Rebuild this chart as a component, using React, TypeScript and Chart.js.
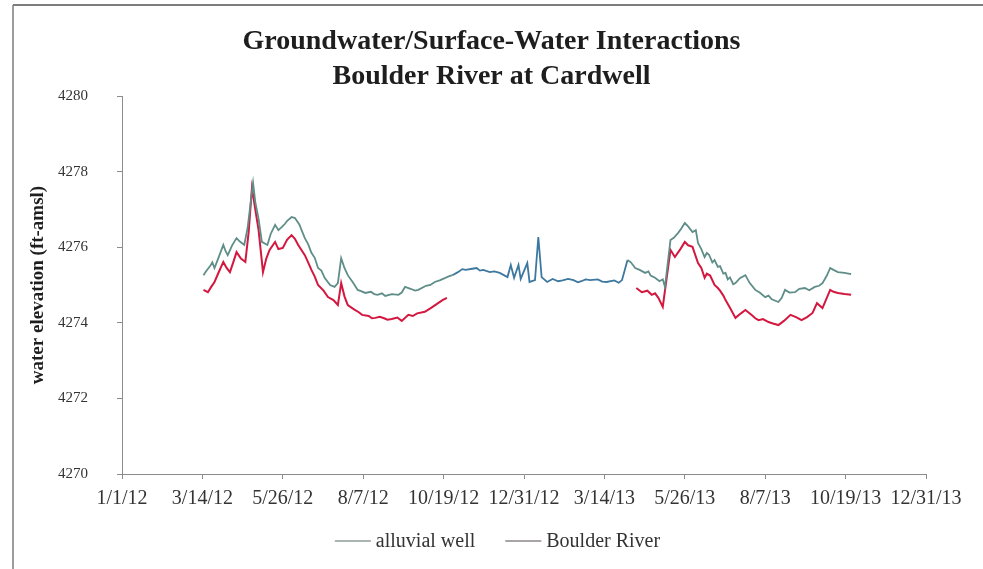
import React, { useEffect, useRef } from "react";
import { Chart, registerables } from "chart.js";

Chart.register(...registerables);

const TITLE_LINES = ["Groundwater/Surface-Water Interactions", "Boulder River at Cardwell"];
const Y_TITLE = "water elevation (ft-amsl)";
const X_TICK_LABELS = ["1/1/12", "3/14/12", "5/26/12", "8/7/12", "10/19/12", "12/31/12", "3/14/13", "5/26/13", "8/7/13", "10/19/13", "12/31/13"];
const Y_TICK_LABELS = ["4270", "4272", "4274", "4276", "4278", "4280"];
const X_STEP_DAYS = 73;
const Y_MIN = 4270;
const Y_MAX = 4280;
const Y_STEP = 2;
const SERIES_LABELS = ["alluvial well", "Boulder River"];

// days since 1/1/12
const wellDays = [74, 76, 80, 82, 84, 88, 92, 94, 96, 100, 104, 107, 111, 114, 119, 121, 124, 127, 132, 135, 139, 142, 145, 148, 150, 154, 157, 161, 166, 169, 172, 175, 178, 181, 184, 189, 193, 196, 199, 202, 205, 210, 214, 217, 221, 226, 229, 232, 236, 239, 245, 251, 254, 257, 262, 266, 269, 276, 280, 284, 289, 293, 296, 300, 305, 309, 312, 318, 322, 325, 328, 334, 338, 343, 350, 353, 356, 360, 362, 368, 370, 375, 378, 381, 386, 391, 396, 400, 405, 410, 414, 417, 421, 425, 432, 436, 440, 447, 451, 454, 459, 462, 466, 470, 475, 478, 480, 484, 488, 491, 493, 498, 501, 505, 508, 511, 514, 518, 521, 523, 526, 529, 531, 533, 536, 538, 541, 543, 546, 548, 550, 552, 555, 557, 561, 566, 570, 575, 579, 584, 587, 590, 596, 599, 602, 606, 611, 615, 620, 624, 629, 633, 636, 640, 643, 646, 650, 656, 662];
const wellValues = [4275.26, 4275.35, 4275.5, 4275.6, 4275.45, 4275.75, 4276.06, 4275.9, 4275.79, 4276.05, 4276.24, 4276.15, 4276.06, 4276.5, 4277.7, 4277.2, 4276.75, 4276.14, 4276.06, 4276.35, 4276.59, 4276.45, 4276.53, 4276.62, 4276.7, 4276.8, 4276.77, 4276.6, 4276.24, 4276.08, 4275.85, 4275.72, 4275.45, 4275.38, 4275.19, 4275.0, 4274.95, 4275.05, 4275.71, 4275.45, 4275.26, 4275.05, 4274.87, 4274.84, 4274.79, 4274.82, 4274.76, 4274.74, 4274.78, 4274.71, 4274.76, 4274.74, 4274.8, 4274.95, 4274.9, 4274.85, 4274.87, 4274.98, 4275.0, 4275.08, 4275.13, 4275.18, 4275.22, 4275.26, 4275.34, 4275.42, 4275.4, 4275.43, 4275.45, 4275.38, 4275.4, 4275.34, 4275.36, 4275.32, 4275.21, 4275.53, 4275.19, 4275.53, 4275.16, 4275.58, 4275.08, 4275.13, 4276.27, 4275.21, 4275.08, 4275.16, 4275.1, 4275.12, 4275.16, 4275.13, 4275.07, 4275.1, 4275.15, 4275.13, 4275.15, 4275.09, 4275.08, 4275.12, 4275.06, 4275.13, 4275.66, 4275.6, 4275.45, 4275.4, 4275.32, 4275.36, 4275.25, 4275.19, 4275.1, 4275.15, 4274.95, 4276.19, 4276.25, 4276.38, 4276.5, 4276.64, 4276.55, 4276.4, 4276.45, 4276.11, 4275.95, 4275.74, 4275.85, 4275.8, 4275.6, 4275.66, 4275.48, 4275.5, 4275.3, 4275.32, 4275.15, 4275.2, 4275.02, 4275.05, 4275.18, 4275.26, 4275.05, 4274.87, 4274.8, 4274.68, 4274.72, 4274.62, 4274.55, 4274.66, 4274.87, 4274.8, 4274.81, 4274.9, 4274.92, 4274.86, 4274.95, 4274.98, 4275.05, 4275.25, 4275.45, 4275.4, 4275.34, 4275.32, 4275.29];

const riverDays = [74, 78, 81, 84, 88, 92, 95, 98, 101, 104, 108, 112, 115, 118, 121, 124, 128, 131, 134, 139, 142, 146, 150, 154, 157, 160, 166, 169, 172, 175, 178, 183, 187, 192, 196, 199, 202, 205, 211, 215, 218, 224, 227, 230, 234, 238, 241, 245, 250, 254, 260, 264, 268, 275, 281, 287, 291, 295, 380, 467, 472, 477, 481, 484, 487, 491, 498, 502, 507, 511, 514, 518, 523, 526, 529, 531, 534, 538, 541, 543, 546, 548, 552, 557, 562, 566, 572, 575, 578, 582, 587, 591, 596, 601, 607, 612, 617, 622, 627, 631, 636, 643, 646, 650, 656, 662];
const riverValues = [4274.87, 4274.81, 4274.95, 4275.08, 4275.35, 4275.61, 4275.45, 4275.34, 4275.6, 4275.87, 4275.7, 4275.61, 4276.4, 4277.57, 4277.0, 4276.46, 4275.34, 4275.7, 4275.93, 4276.14, 4275.95, 4275.98, 4276.2, 4276.32, 4276.22, 4276.06, 4275.79, 4275.6, 4275.4, 4275.22, 4275.0, 4274.85, 4274.68, 4274.6, 4274.47, 4275.05, 4274.7, 4274.47, 4274.35, 4274.28, 4274.21, 4274.18, 4274.12, 4274.13, 4274.16, 4274.12, 4274.08, 4274.1, 4274.14, 4274.05, 4274.21, 4274.18, 4274.25, 4274.29, 4274.4, 4274.52, 4274.6, 4274.66, null, 4274.92, 4274.81, 4274.85, 4274.74, 4274.78, 4274.66, 4274.42, 4275.93, 4275.74, 4275.95, 4276.14, 4276.05, 4276.01, 4275.58, 4275.45, 4275.19, 4275.3, 4275.25, 4275.0, 4274.92, 4274.85, 4274.72, 4274.6, 4274.4, 4274.13, 4274.25, 4274.34, 4274.2, 4274.12, 4274.07, 4274.1, 4274.02, 4273.98, 4273.94, 4274.05, 4274.21, 4274.15, 4274.07, 4274.15, 4274.26, 4274.52, 4274.39, 4274.87, 4274.82, 4274.79, 4274.76, 4274.74];

const SERIF = '"Liberation Serif", "Times New Roman", serif';
const WELL_COLOR = "#5f8d88";
const WELL_WINTER_COLOR = "#3d78a0";
const RIVER_COLOR = "#d3173f";
const AXIS_COLOR = "#8c8c8c";
const TEXT_COLOR = "#333333";
const LEGEND_SWATCH_COLORS = ["#8e9c99", "#8c8787"];

const framePlugin = {
  id: "frame",
  beforeDraw(chart: any) {
    const ctx = chart.ctx;
    ctx.save();
    ctx.strokeStyle = "#7d7d7d";
    ctx.lineWidth = 2;
    ctx.beginPath();
    ctx.moveTo(13, 5);
    ctx.lineTo(chart.width, 5);
    ctx.stroke();
    ctx.lineWidth = 1.5;
    ctx.beginPath();
    ctx.moveTo(13, 5);
    ctx.lineTo(13, chart.height);
    ctx.stroke();
    ctx.restore();
  },
};

const legendPlugin = {
  id: "lineLegend",
  afterDraw(chart: any) {
    const ctx = chart.ctx;
    const fontSize = 20;
    const swatch = 36;
    const gapText = 5;
    const gapItem = 30;
    ctx.save();
    ctx.font = `${fontSize}px ${SERIF}`;
    const items = chart.data.datasets.map((d: any, i: number) => ({
      text: d.label,
      color: LEGEND_SWATCH_COLORS[i],
      w: ctx.measureText(d.label).width,
    }));
    let total = 0;
    items.forEach((it: any, i: number) => {
      total += swatch + gapText + it.w + (i < items.length - 1 ? gapItem : 0);
    });
    let x = chart.width / 2 + 6 - total / 2;
    const y = 541;
    ctx.textBaseline = "middle";
    ctx.textAlign = "left";
    items.forEach((it: any) => {
      ctx.strokeStyle = it.color;
      ctx.lineWidth = 1.5;
      ctx.beginPath();
      ctx.moveTo(x, y);
      ctx.lineTo(x + swatch, y);
      ctx.stroke();
      x += swatch + gapText;
      ctx.fillStyle = TEXT_COLOR;
      ctx.fillText(it.text, x, y + 1);
      x += it.w + gapItem;
    });
    ctx.restore();
  },
};

export default function App() {
  const canvasRef = useRef<HTMLCanvasElement | null>(null);

  useEffect(() => {
    const canvas = canvasRef.current;
    if (!canvas) return;
    const wellData = wellDays.map((d, i) => ({ x: d, y: wellValues[i] }));
    const riverData = riverDays.map((d, i) => ({ x: d, y: riverValues[i] }));

    const chart = new Chart(canvas, {
      type: "line",
      data: {
        datasets: [
          {
            label: SERIES_LABELS[0],
            data: wellData,
            borderColor: WELL_COLOR,
            borderWidth: 1.8,
            pointRadius: 0,
            tension: 0,
            segment: {
              borderColor: (c: any) => {
                const x0 = c.p0.parsed.x;
                return x0 >= 300 && x0 < 458 ? WELL_WINTER_COLOR : WELL_COLOR;
              },
            },
          },
          {
            label: SERIES_LABELS[1],
            data: riverData,
            borderColor: RIVER_COLOR,
            borderWidth: 2,
            pointRadius: 0,
            tension: 0,
            spanGaps: false,
          },
        ],
      },
      options: {
        responsive: false,
        animation: false,
        devicePixelRatio: 1,
        layout: { padding: { left: 0, right: 0, top: 0, bottom: 55 } },
        plugins: {
          legend: { display: false },
          tooltip: { enabled: false },
          title: {
            display: true,
            text: TITLE_LINES,
            color: "#1e1e1e",
            font: { family: SERIF, size: 28, weight: "bold", lineHeight: 1.25 },
            padding: { top: 24.5, bottom: 1.5 },
          },
        },
        scales: {
          x: {
            type: "linear",
            min: 0,
            max: X_STEP_DAYS * (X_TICK_LABELS.length - 1),
            afterFit: (s: any) => {
              s.height = 40;
            },
            ticks: {
              stepSize: X_STEP_DAYS,
              autoSkip: false,
              maxRotation: 0,
              padding: 8,
              color: TEXT_COLOR,
              font: { family: SERIF, size: 20 },
              callback: (v: any) => X_TICK_LABELS[Math.round(Number(v) / X_STEP_DAYS)] ?? "",
            },
            grid: { display: true, drawOnChartArea: false, drawTicks: true, tickLength: 5, color: AXIS_COLOR },
            border: { display: true, color: AXIS_COLOR, width: 1 },
          },
          y: {
            type: "linear",
            position: "left",
            min: Y_MIN,
            max: Y_MAX,
            afterFit: (s: any) => {
              s.width = 122;
            },
            ticks: {
              stepSize: Y_STEP,
              padding: 29,
              color: TEXT_COLOR,
              font: { family: SERIF, size: 15 },
              callback: (v: any) => Y_TICK_LABELS[Math.round((Number(v) - Y_MIN) / Y_STEP)] ?? "",
            },
            title: {
              display: true,
              text: Y_TITLE,
              color: "#1e1e1e",
              font: { family: SERIF, size: 19, weight: "bold", lineHeight: 1.2 },
              padding: { top: 26.6, bottom: 0 },
            },
            grid: { display: true, drawOnChartArea: false, drawTicks: true, tickLength: 5, color: AXIS_COLOR },
            border: { display: true, color: AXIS_COLOR, width: 1 },
          },
          yRight: {
            type: "linear",
            position: "right",
            min: 0,
            max: 1,
            display: true,
            afterFit: (s: any) => {
              s.width = 57;
            },
            ticks: { display: false },
            grid: { display: false },
            border: { display: false },
          },
        },
      },
      plugins: [framePlugin, legendPlugin],
    });

    return () => {
      chart.destroy();
    };
  }, []);

  return (
    <div style={{ position: "absolute", left: 0, top: 0, width: 983, height: 569, background: "#ffffff" }}>
      <canvas ref={canvasRef} width={983} height={569} style={{ width: 983, height: 569, display: "block" }} />
    </div>
  );
}
